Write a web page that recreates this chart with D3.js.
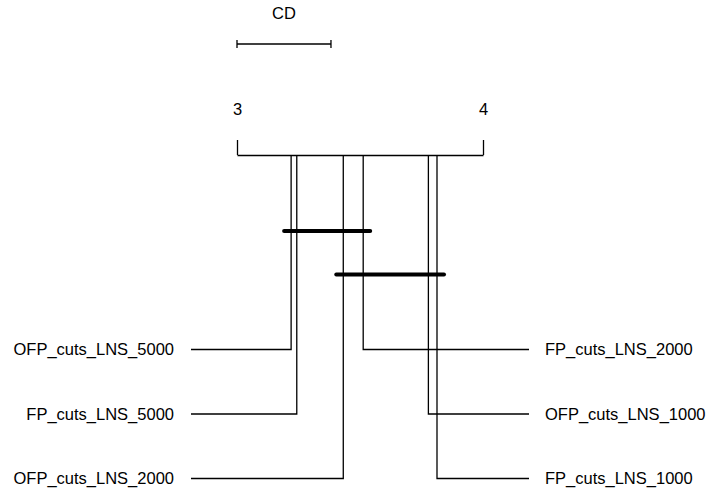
<!DOCTYPE html>
<html>
<head>
<meta charset="utf-8">
<script src="https://cdn.jsdelivr.net/npm/d3@7"></script>
<style>
  body { margin: 0; background: #fff; }
  text { font-family: "Liberation Sans", Arial, sans-serif; font-size: 16.5px; fill: #000; }
</style>
</head>
<body>
<svg width="708" height="490"></svg>
<script>
// average ranks, sorted best (lowest) first
var names = ["OFP_cuts_LNS_5000", "FP_cuts_LNS_5000", "OFP_cuts_LNS_2000",
             "FP_cuts_LNS_2000", "OFP_cuts_LNS_1000", "FP_cuts_LNS_1000"];
var ranks = [3.220, 3.243, 3.432, 3.513, 3.778, 3.813];
var rankTicks = [3, 4];
var cd = 0.382;
// groups with no significant difference (first and last member)
var cliques = [["OFP_cuts_LNS_5000", "FP_cuts_LNS_2000"],
               ["OFP_cuts_LNS_2000", "FP_cuts_LNS_1000"]];

var svg = d3.select("svg");

var axisY = 155,
    leftEnd = 191,
    rightEnd = 529,
    side = 7;

var x = d3.scaleLinear()
    .domain([3, 4])
    .range([237, 483]);

var row = d3.scalePoint()
    .domain([0, 1, 2])
    .range([349.5, 478.5]);

var cliqueY = d3.scalePoint()
    .domain(d3.range(cliques.length))
    .range([231, 274.5]);

// rank axis
var axis = svg.append("g")
    .attr("transform", "translate(0," + axisY + ")")
    .call(d3.axisTop(x).tickValues(rankTicks).tickSizeInner(15).tickSizeOuter(0)
        .tickPadding(25).tickFormat(d3.format("d")));
axis.selectAll("line, path").attr("stroke", "#000").attr("stroke-width", 1.3);
axis.selectAll("text").attr("font-size", 16.5).attr("font-family", null).attr("fill", "#000");

// CD bar
var cdY = 44;
var cdG = svg.append("g").attr("stroke", "#000").attr("stroke-width", 1.3);
cdG.append("line").attr("x1", x(3)).attr("x2", x(3 + cd)).attr("y1", cdY).attr("y2", cdY);
cdG.selectAll(".cap").data([3, 3 + cd]).enter().append("line")
    .attr("x1", d => x(d)).attr("x2", d => x(d))
    .attr("y1", cdY - 4).attr("y2", cdY + 4);
svg.append("text")
    .attr("x", x(3 + cd / 2)).attr("y", 18.5)
    .attr("text-anchor", "middle")
    .attr("font-size", 15.5)
    .text("CD");

// method lines and labels
var half = Math.ceil(names.length / 2);
var methods = names.map(function(n, i) {
  var left = i < half;
  return { name: n, rank: ranks[i], left: left, y: row(left ? i : i - half) };
});

var mg = svg.append("g");
mg.selectAll("path").data(methods).enter().append("path")
    .attr("fill", "none")
    .attr("stroke", "#000")
    .attr("stroke-width", 1.3)
    .attr("d", d => "M" + x(d.rank) + "," + axisY + "V" + d.y + "H" + (d.left ? leftEnd : rightEnd));

mg.selectAll("text").data(methods).enter().append("text")
    .attr("x", d => d.left ? leftEnd - 17 : rightEnd + 16)
    .attr("y", d => d.y)
    .attr("dy", "0.35em")
    .attr("text-anchor", d => d.left ? "end" : "start")
    .text(d => d.name);

// clique bars
svg.append("g").selectAll("line").data(cliques).enter().append("line")
    .attr("x1", d => x(ranks[names.indexOf(d[0])]) - side)
    .attr("x2", d => x(ranks[names.indexOf(d[1])]) + side)
    .attr("y1", (d, i) => cliqueY(i))
    .attr("y2", (d, i) => cliqueY(i))
    .attr("stroke", "#000")
    .attr("stroke-width", 4)
    .attr("stroke-linecap", "round");
</script>
</body>
</html>
